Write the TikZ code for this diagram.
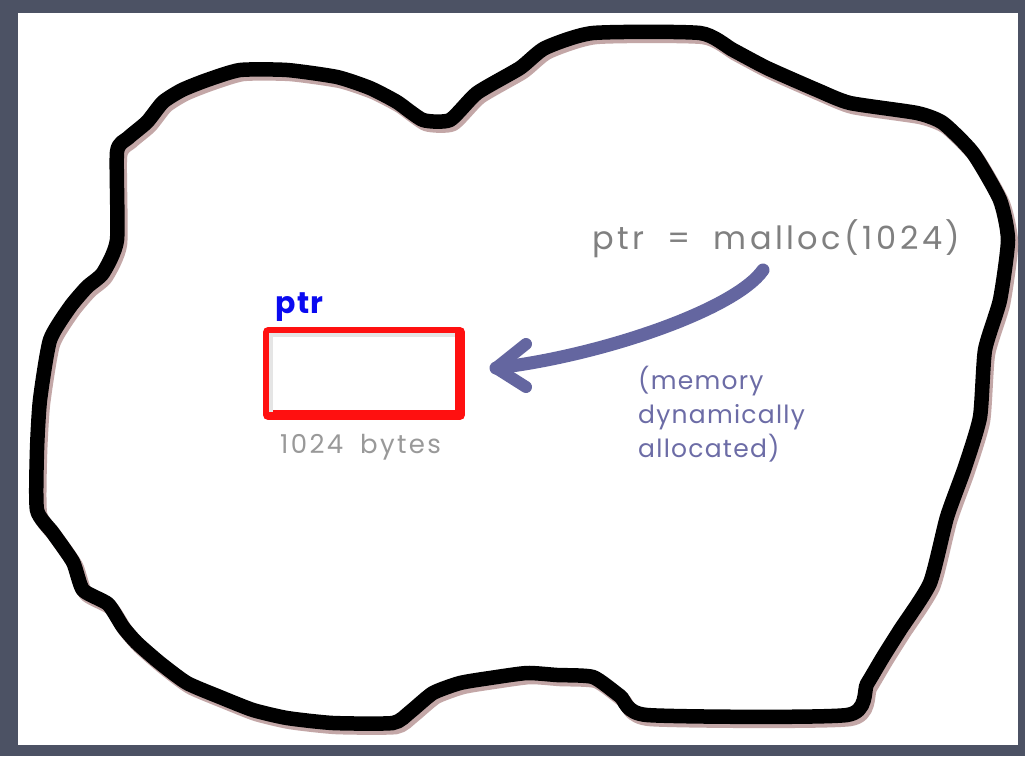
\documentclass[tikz,border=0pt]{standalone}
\usepackage{fontspec}
\setmainfont{Poppins}
\definecolor{bgdark}{HTML}{4C5264}
\definecolor{shadowc}{HTML}{B08A8A}
\definecolor{arrowblue}{HTML}{6466A0}
\definecolor{notec}{HTML}{6C6CA6}
\definecolor{codegray}{HTML}{808080}
\definecolor{sizegray}{HTML}{999999}
\definecolor{ptrblue}{HTML}{0A0AF0}
\definecolor{boxred}{HTML}{FF1010}
\tikzset{
  cloudline/.style={line width=14.5pt, line join=round, line cap=round, black},
  cloudshadow/.style={line width=14.5pt, line join=round, line cap=round, shadowc, opacity=0.75},
  arrowc/.style={line width=13pt, line cap=round, line join=round, arrowblue},
  boxstyle/.style={draw=boxred, line width=10pt, line join=round, minimum width=192pt, minimum height=83pt, inner sep=0pt},
  codetext/.style={text=codegray, font=\fontsize{32}{34}\selectfont\addfontfeatures{LetterSpace=11}, inner sep=0pt},
  notetext/.style={text=notec, font=\fontsize{25}{34}\selectfont\addfontfeatures{LetterSpace=5}, align=left, inner sep=0pt},
  sizetext/.style={text=sizegray, font=\fontsize{26}{30}\selectfont\addfontfeatures{LetterSpace=9}, inner sep=0pt},
  ptrtext/.style={text=ptrblue, font=\bfseries\fontsize{30}{34}\selectfont\addfontfeatures{LetterSpace=5}, inner sep=0pt}
}
\begin{document}
\begin{tikzpicture}[x=1pt,y=-1pt]
\useasboundingbox (0,0) rectangle (1025,756);
\fill[bgdark] (0,0) rectangle (1025,756);
\fill[white] (18,13) rectangle (1018,745);
\def\cloudpts{(117,240) (117,152) (128,138) (147,122) (163,102) (182,90) (207,80) (240,70) (287,70) (337,77) (370,88) (397,102) (423,120) (450,120) (477,93) (520,68) (545,48) (593,33) (700,33) (733,50) (767,68) (817,90) (850,103) (917,113) (943,123) (973,153) (1000,200) (1008,240) (1000,300) (985,350) (980,417) (965,467) (947,517) (930,583) (900,630) (883,657) (867,684) (847,715) (647,715) (620,696) (593,677) (557,675) (527,673) (490,678) (460,683) (433,693) (410,712) (393,723) (333,723) (287,718) (253,710) (220,697) (187,683) (160,663) (137,643) (123,627) (108,604) (83,590) (73,562) (53,533) (37,510) (37,450) (40,400) (50,340) (70,307) (87,287) (103,273)}
\begin{scope}[shift={(3,4)}]
\draw[cloudshadow] plot[smooth cycle, tension=0.35] coordinates {\cloudpts};
\end{scope}
\draw[cloudline] plot[smooth cycle, tension=0.35] coordinates {\cloudpts};
% memory block
\node[boxstyle, fill=white] (mem) at (364,373.5) {};
\draw[black!10, line width=4pt] ([shift={(8,-8)}]mem.south west) -- ([shift={(8,8)}]mem.north west) -- ([shift={(-10,8)}]mem.north east);
\node[ptrtext, anchor=base west] (ptrlabel) at (275,313) {ptr};
\node[sizetext, anchor=base west] (bytes) at (280,453) {1024\hspace{17pt}bytes};
% code
\node[codetext, anchor=base west] (code) at (592,249) {ptr\hspace{23pt}=\hspace{23pt}malloc(1024)};
\node[notetext, anchor=north west] (note) at (638,366) {(memory\\dynamically\\allocated)};
% arrow
\coordinate (astart) at (763,270);
\coordinate (atip) at (496,368);
\coordinate (aup) at (526,344);
\coordinate (adown) at (526,387);
\draw[arrowc] (astart) .. controls (735,310) and (600,356) .. (atip);
\draw[arrowc, line width=12pt] (aup) -- (atip) -- (adown);
\end{tikzpicture}
\end{document}
